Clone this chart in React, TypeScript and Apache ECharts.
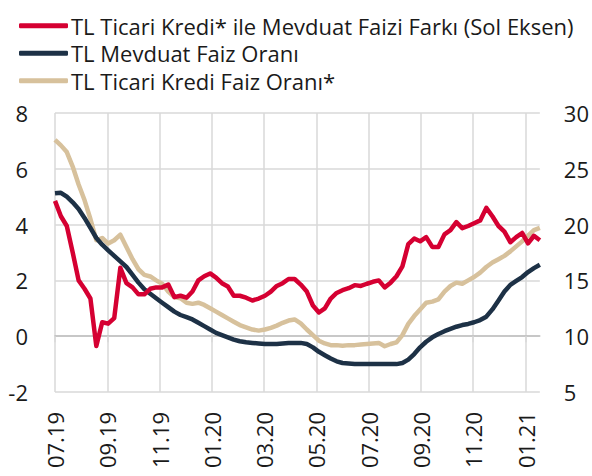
import React, { useEffect, useRef } from "react";
import * as echarts from "echarts";

const dates: string[] = [
  "2019-07-01","2019-07-08","2019-07-15","2019-07-22","2019-07-29",
  "2019-08-05","2019-08-12","2019-08-19","2019-08-26",
  "2019-09-02","2019-09-09","2019-09-16","2019-09-23","2019-09-30",
  "2019-10-07","2019-10-14","2019-10-21","2019-10-28",
  "2019-11-04","2019-11-11","2019-11-18","2019-11-25",
  "2019-12-02","2019-12-09","2019-12-16","2019-12-23","2019-12-30",
  "2020-01-06","2020-01-13","2020-01-20","2020-01-27",
  "2020-02-03","2020-02-10","2020-02-17","2020-02-24",
  "2020-03-02","2020-03-09","2020-03-16","2020-03-23","2020-03-30",
  "2020-04-06","2020-04-13","2020-04-20","2020-04-27",
  "2020-05-04","2020-05-11","2020-05-18","2020-05-25",
  "2020-06-01","2020-06-08","2020-06-15","2020-06-22","2020-06-29",
  "2020-07-06","2020-07-13","2020-07-20","2020-07-27",
  "2020-08-03","2020-08-10","2020-08-17","2020-08-24","2020-08-31",
  "2020-09-07","2020-09-14","2020-09-21","2020-09-28",
  "2020-10-05","2020-10-12","2020-10-19","2020-10-26",
  "2020-11-02","2020-11-09","2020-11-16","2020-11-23","2020-11-30",
  "2020-12-07","2020-12-14","2020-12-21","2020-12-28",
  "2021-01-04","2021-01-11","2021-01-18",
];

// TL Ticari Kredi* ile Mevduat Faizi Farkı (Sol Eksen)
const spread: number[] = [
  4.85, 4.3, 3.95, 3.0, 2.0, 1.7, 1.35, -0.35, 0.5, 0.45,
  0.65, 2.45, 1.9, 1.75, 1.5, 1.5, 1.7, 1.75, 1.75, 1.85,
  1.4, 1.45, 1.38, 1.6, 2.0, 2.15, 2.25, 2.1, 1.9, 1.78,
  1.45, 1.45, 1.38, 1.28, 1.35, 1.45, 1.6, 1.8, 1.9, 2.05,
  2.05, 1.85, 1.6, 1.1, 0.85, 1.0, 1.35, 1.55, 1.65, 1.72,
  1.83, 1.8, 1.88, 1.95, 2.0, 1.75, 1.92, 2.15, 2.5, 3.3,
  3.5, 3.4, 3.55, 3.2, 3.2, 3.65, 3.8, 4.09, 3.87, 3.95,
  4.05, 4.15, 4.6, 4.3, 3.95, 3.75, 3.37, 3.55, 3.7, 3.33,
  3.6, 3.44,
];

// TL Mevduat Faiz Oranı (Sağ Eksen)
const deposit: number[] = [
  22.8, 22.85, 22.5, 22.0, 21.4, 20.6, 19.7, 18.8, 18.2, 17.7,
  17.2, 16.7, 16.2, 15.5, 14.8, 14.2, 13.8, 13.4, 13.0, 12.6,
  12.2, 11.9, 11.7, 11.5, 11.2, 10.9, 10.6, 10.3, 10.1, 9.9,
  9.7, 9.55, 9.45, 9.4, 9.35, 9.3, 9.3, 9.3, 9.35, 9.4,
  9.4, 9.4, 9.3, 9.0, 8.6, 8.3, 8.0, 7.75, 7.6, 7.55,
  7.5, 7.5, 7.5, 7.5, 7.5, 7.5, 7.5, 7.5, 7.6, 7.9,
  8.4, 9.0, 9.5, 9.9, 10.2, 10.45, 10.65, 10.85, 11.0, 11.1,
  11.25, 11.45, 11.75, 12.4, 13.2, 14.0, 14.6, 14.95, 15.3, 15.75,
  16.1, 16.4,
];

// TL Ticari Kredi Faiz Oranı* (Sağ Eksen)
const loan: number[] = [
  27.6, 27.1, 26.5, 25.2, 23.6, 22.2, 20.5, 18.6, 18.8, 18.3,
  18.6, 19.1, 18.0, 16.9, 16.0, 15.5, 15.35, 15.0, 14.7, 14.0,
  13.5, 13.4, 13.0, 12.9, 13.0, 12.8, 12.5, 12.2, 11.9, 11.6,
  11.3, 11.0, 10.8, 10.6, 10.5, 10.6, 10.75, 10.95, 11.2, 11.4,
  11.5, 11.15, 10.6, 10.1, 9.6, 9.35, 9.2, 9.2, 9.15, 9.2,
  9.2, 9.25, 9.3, 9.35, 9.4, 9.1, 9.3, 9.45, 10.1, 11.1,
  11.8, 12.4, 13.0, 13.1, 13.3, 14.0, 14.5, 14.8, 14.7, 15.0,
  15.3, 15.7, 16.2, 16.6, 16.9, 17.2, 17.6, 18.05, 18.5, 19.0,
  19.5, 19.7,
];

const seriesNames: string[] = [
  "TL Ticari Kredi* ile Mevduat Faizi Farkı (Sol Eksen)",
  "TL Mevduat Faiz Oranı",
  "TL Ticari Kredi Faiz Oranı*",
];

const leftTicks = { min: -2, max: 8, interval: 2 };
const rightTicks = { min: 5, max: 30, interval: 5 };

const START_YEAR = 2019;
const START_MONTH = 7;

// months elapsed since the start month (fractional, by day of month)
function monthPos(d: string): number {
  const [y, m, day] = d.split("-").map(Number);
  const dim = new Date(y, m, 0).getDate();
  return (y - START_YEAR) * 12 + (m - START_MONTH) + (day - 1) / dim;
}

function monthLabel(v: number): string {
  const r = Math.round(v);
  if (Math.abs(v - r) > 1e-6 || r % 2 !== 0) return "";
  const abs = START_MONTH - 1 + r;
  const y = START_YEAR + Math.floor(abs / 12);
  const m = (abs % 12) + 1;
  return String(m).padStart(2, "0") + "." + String(y).slice(2);
}

const FONT = "'Open Sans', 'Noto Sans', sans-serif";
const COLORS = ["#D50032", "#1D3146", "#D7C19C"];

export default function App() {
  const ref = useRef<HTMLDivElement>(null);
  useEffect(() => {
    if (!ref.current) return;
    const chart = echarts.init(ref.current, undefined, { renderer: "svg" });
    const xs = dates.map(monthPos);
    const mk = (arr: number[]) => arr.map((v, i) => [xs[i], v]);
    chart.setOption({
      animation: false,
      backgroundColor: "#ffffff",
      textStyle: { fontFamily: FONT },
      legend: {
        orient: "vertical",
        left: 14,
        top: 7,
        itemWidth: 49,
        itemHeight: 5,
        itemGap: 0,
        icon: "roundRect",
        data: seriesNames,
        textStyle: { fontSize: 22, color: "#1a1a1a", fontFamily: FONT, lineHeight: 27.5, padding: [0, 0, 0, -2] },
      },
      grid: { left: 55, right: 52, top: 113, bottom: 84, containLabel: false },
      xAxis: {
        type: "value",
        min: 0,
        max: "dataMax",
        interval: 2,
        axisLine: { show: true, lineStyle: { color: "#bfbfbf", width: 1.5 } },
        axisTick: { show: true, length: 6, lineStyle: { color: "#d9d9d9", width: 1.5 } },
        splitLine: { show: true, showMaxLine: false, lineStyle: { color: "#d9d9d9", width: 1.5 } },
        axisLabel: {
          rotate: 90,
          margin: 20,
          fontSize: 22,
          color: "#1a1a1a",
          fontFamily: FONT,
          showMaxLabel: false,
          formatter: (v: number) => monthLabel(v),
        },
      },
      yAxis: [
        {
          type: "value",
          position: "left",
          min: leftTicks.min,
          max: leftTicks.max,
          interval: leftTicks.interval,
          axisLine: { show: false },
          axisTick: { show: false },
          splitLine: { show: true, lineStyle: { color: "#d9d9d9", width: 1.5 } },
          axisLabel: { fontSize: 22, color: "#1a1a1a", margin: 27, fontFamily: FONT },
        },
        {
          type: "value",
          position: "right",
          min: rightTicks.min,
          max: rightTicks.max,
          interval: rightTicks.interval,
          axisLine: { show: false },
          axisTick: { show: false },
          splitLine: { show: false },
          axisLabel: { fontSize: 22, color: "#1a1a1a", margin: 24, fontFamily: FONT },
        },
      ],
      series: [
        {
          name: seriesNames[0],
          type: "line",
          yAxisIndex: 0,
          data: mk(spread),
          showSymbol: false,
          color: COLORS[0],
          lineStyle: { width: 4.5, color: COLORS[0], join: "round" },
          z: 3,
        },
        {
          name: seriesNames[1],
          type: "line",
          yAxisIndex: 1,
          data: mk(deposit),
          showSymbol: false,
          color: COLORS[1],
          lineStyle: { width: 4.5, color: COLORS[1], join: "round" },
          z: 2,
        },
        {
          name: seriesNames[2],
          type: "line",
          yAxisIndex: 1,
          data: mk(loan),
          showSymbol: false,
          color: COLORS[2],
          lineStyle: { width: 4.5, color: COLORS[2], join: "round" },
          z: 1,
        },
      ],
    });
    return () => chart.dispose();
  }, []);
  return <div ref={ref} style={{ width: 592, height: 476, position: "absolute", left: 0, top: 0 }} />;
}
